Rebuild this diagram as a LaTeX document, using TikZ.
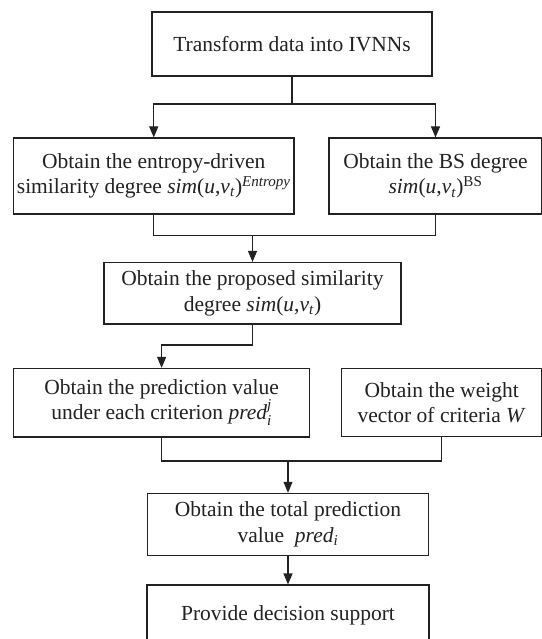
\documentclass[tikz,border=0pt]{standalone}
\usepackage{amsmath}
\usepackage{fontspec}
\setmainfont{Liberation Serif}
\usetikzlibrary{arrows.meta}
\definecolor{ink}{HTML}{222222}
\newcommand{\simu}[1]{\textit{sim}(\textit{u},\textit{v}\textsubscript{\textit{t}})#1}
\begin{document}
\begin{tikzpicture}[x=1pt,y=-1pt,
  box/.style={draw=ink,line width=1.1pt,rectangle,inner sep=0pt,align=center,text=ink,
    font=\fontsize{21.5}{25.5}\selectfont},
  ln/.style={draw=ink,line width=1.1pt},
  arr/.style={ln,-{Triangle[length=11pt,width=9pt]}}]
\useasboundingbox[fill=white] (0,0) rectangle (541,639);
\node[box,minimum width=280pt,minimum height=64pt] (b1) at (292,44) {Transform data into IVNNs};
\node[box,minimum width=280.5pt,minimum height=76pt] (b2) at (153.75,176)
  {Obtain the entropy-driven\\similarity degree \simu{\textsuperscript{\textit{Entropy}}}};
\node[box,minimum width=213pt,minimum height=76pt] (b3) at (435.5,176)
  {Obtain the BS degree\\\simu{\textsuperscript{BS}}};
\node[box,minimum width=297pt,minimum height=61.5pt] (b4) at (252.5,293.25)
  {Obtain the proposed similarity\\degree \simu{}};
\node[box,minimum width=295.7pt,minimum height=68.6pt] (b5) at (161.6,402.7)
  {Obtain the prediction value\\under each criterion \textit{pred}$_{\text{\textit{i}}}^{\text{\textit{j}}}$};
\node[box,minimum width=200.2pt,minimum height=68pt] (b6) at (441.7,402.5)
  {Obtain the weight\\vector of criteria \textit{W}};
\node[box,minimum width=281pt,minimum height=62.2pt] (b7) at (288,524.4)
  {Obtain the total prediction\\value\ \ \textit{pred}\textsubscript{\textit{i}}};
\node[box,minimum width=282pt,minimum height=60pt] (b8) at (288,615)
  {Provide decision support};
\coordinate (j1) at (292,104);
\coordinate (j2) at (252.5,235.5);
\coordinate (j3) at (252.5,345);
\coordinate (j4) at (288,461);
\draw[ln] (b1.south) -- (j1);
\draw[arr] (j1) -| (b2.north);
\draw[arr] (j1) -| (b3.north);
\draw[ln] (b2.south) |- (j2) -| (b3.south);
\draw[arr] (j2) -- (b4.north);
\draw[arr] (b4.south) -- (j3) -| (b5.north);
\draw[ln] (b5.south) |- (j4) -| (b6.south);
\draw[arr] (j4) -- (b7.north);
\draw[arr] (b7.south) -- (b8.north);
\end{tikzpicture}
\end{document}
